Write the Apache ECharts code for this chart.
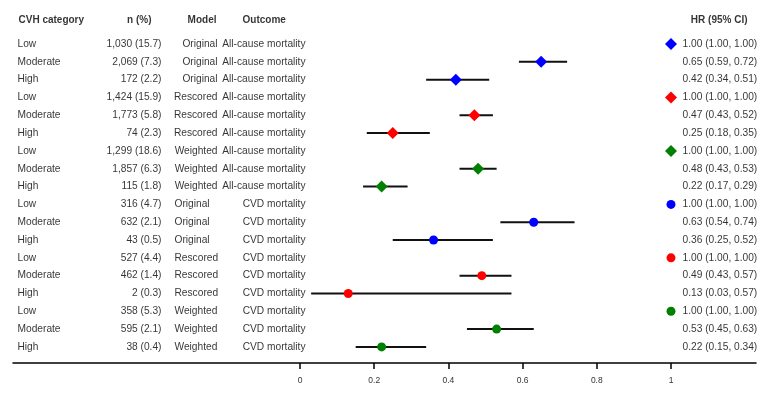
<!DOCTYPE html>
<html>
<head>
<meta charset="utf-8">
<script src="https://cdn.jsdelivr.net/npm/echarts@6/dist/echarts.min.js"></script>
<style>
  html, body { margin: 0; padding: 0; background: #fff; }
  #chart { width: 764px; height: 399px; }
</style>
</head>
<body>
<div id="chart"></div>
<script>
// 表格数据
const categories = ['Low', 'Moderate', 'High', 'Low', 'Moderate', 'High', 'Low', 'Moderate', 'High',
  'Low', 'Moderate', 'High', 'Low', 'Moderate', 'High', 'Low', 'Moderate', 'High'];
const nPct = ['1,030 (15.7)', '2,069 (7.3)', '172 (2.2)', '1,424 (15.9)', '1,773 (5.8)', '74 (2.3)',
  '1,299 (18.6)', '1,857 (6.3)', '115 (1.8)', '316 (4.7)', '632 (2.1)', '43 (0.5)',
  '527 (4.4)', '462 (1.4)', '2 (0.3)', '358 (5.3)', '595 (2.1)', '38 (0.4)'];
const models = ['Original', 'Original', 'Original', 'Rescored', 'Rescored', 'Rescored', 'Weighted', 'Weighted', 'Weighted',
  'Original', 'Original', 'Original', 'Rescored', 'Rescored', 'Rescored', 'Weighted', 'Weighted', 'Weighted'];
const outcomes = ['All-cause mortality', 'All-cause mortality', 'All-cause mortality', 'All-cause mortality',
  'All-cause mortality', 'All-cause mortality', 'All-cause mortality', 'All-cause mortality', 'All-cause mortality',
  'CVD mortality', 'CVD mortality', 'CVD mortality', 'CVD mortality', 'CVD mortality', 'CVD mortality',
  'CVD mortality', 'CVD mortality', 'CVD mortality'];
const hr    = [1.00, 0.65, 0.42, 1.00, 0.47, 0.25, 1.00, 0.48, 0.22, 1.00, 0.63, 0.36, 1.00, 0.49, 0.13, 1.00, 0.53, 0.22];
const lower = [1.00, 0.59, 0.34, 1.00, 0.43, 0.18, 1.00, 0.43, 0.17, 1.00, 0.54, 0.25, 1.00, 0.43, 0.03, 1.00, 0.45, 0.15];
const upper = [1.00, 0.72, 0.51, 1.00, 0.52, 0.35, 1.00, 0.53, 0.29, 1.00, 0.74, 0.52, 1.00, 0.57, 0.57, 1.00, 0.63, 0.34];
const xTicks = [0, 0.2, 0.4, 0.6, 0.8, 1];
const headers = ['CVH category', 'n (%)', 'Model', 'Outcome', 'HR (95% CI)'];

const modelColor = { Original: '#0000ff', Rescored: '#ff0000', Weighted: '#008000' };
const font = 'Liberation Sans, Arial, sans-serif';
const headerY = -1.35;

function hrText(i) {
  return hr[i].toFixed(2) + ' (' + lower[i].toFixed(2) + ', ' + upper[i].toFixed(2) + ')';
}

// 文本列（x 用像素轴）
function textSeries(name, getX, getText, side, rows) {
  return {
    name: name,
    type: 'scatter',
    xAxisIndex: 1,
    symbolSize: 1,
    itemStyle: { color: 'rgba(0,0,0,0)' },
    silent: true,
    clip: false,
    z: 5,
    data: rows.map(i => ({ value: [getX(i), i], txt: getText(i) })),
    label: {
      show: true,
      position: side,
      distance: 0,
      fontFamily: font,
      fontSize: 10.2,
      color: '#000',
      formatter: p => p.data.txt
    }
  };
}

function headerSeries(x, text, side) {
  return {
    type: 'scatter',
    xAxisIndex: 1,
    symbolSize: 1,
    itemStyle: { color: 'rgba(0,0,0,0)' },
    silent: true,
    clip: false,
    data: [{ value: [x, headerY] }],
    label: {
      show: true,
      position: side,
      distance: 0,
      fontFamily: font,
      fontSize: 10,
      fontWeight: 'bold',
      color: '#000',
      formatter: text
    }
  };
}

const rows = categories.map((_, i) => i);
const allRows = rows.filter(i => outcomes[i] !== 'CVD mortality');
const cvdRows = rows.filter(i => outcomes[i] === 'CVD mortality');

const series = [
  textSeries('cat', () => 17, i => categories[i], 'right', rows),
  textSeries('n', () => 162, i => nPct[i], 'left', rows),
  textSeries('modelA', () => 218, i => models[i], 'left', allRows),
  textSeries('modelC', () => 174, i => models[i], 'right', cvdRows),
  textSeries('outcome', () => 306, i => outcomes[i], 'left', rows),
  textSeries('hr', () => 682, i => hrText(i), 'right', rows),
  headerSeries(18, headers[0], 'right'),
  headerSeries(152, headers[1], 'left'),
  headerSeries(217, headers[2], 'left'),
  headerSeries(242, headers[3], 'right'),
  headerSeries(748, headers[4], 'left'),
  {
    // 置信区间
    type: 'custom',
    silent: true,
    z: 3,
    data: rows.map(i => [lower[i], upper[i], i]),
    renderItem: (params, api) => {
      const a = api.coord([api.value(0), api.value(2)]);
      const b = api.coord([api.value(1), api.value(2)]);
      return {
        type: 'line',
        shape: { x1: a[0], y1: a[1], x2: b[0], y2: b[1] },
        style: { stroke: '#111', lineWidth: 2 }
      };
    }
  }
];

['Original', 'Rescored', 'Weighted'].forEach(m => {
  series.push({
    type: 'scatter',
    silent: true,
    z: 4,
    symbol: 'diamond',
    symbolSize: 12,
    itemStyle: { color: modelColor[m], opacity: 1 },
    data: allRows.filter(i => models[i] === m).map(i => [hr[i], i])
  });
  series.push({
    type: 'scatter',
    silent: true,
    z: 4,
    symbol: 'circle',
    symbolSize: 9,
    itemStyle: { color: modelColor[m], opacity: 1 },
    data: cvdRows.filter(i => models[i] === m).map(i => [hr[i], i])
  });
});

const chart = echarts.init(document.getElementById('chart'));
chart.setOption({
  animation: false,
  backgroundColor: '#fff',
  grid: { left: 13, right: 8, top: 8, bottom: 36 },
  xAxis: [
    {
      type: 'value',
      min: (13 - 300) / 371,
      max: (756 - 300) / 371,
      splitLine: { show: false },
      axisLine: { show: true, onZero: false, lineStyle: { color: '#000', width: 1.5 } },
      axisTick: { show: true, customValues: xTicks, length: 6, lineStyle: { color: '#000', width: 1.5 } },
      axisLabel: {
        customValues: xTicks,
        margin: 13,
        fontFamily: font,
        fontSize: 8.5,
        color: '#333',
        formatter: v => String(v)
      }
    },
    { type: 'value', min: 13, max: 756, show: false }
  ],
  yAxis: {
    type: 'value',
    inverse: true,
    min: (8 - 44) / 17.82,
    max: (363 - 44) / 17.82,
    show: false
  },
  series: series
});
</script>
</body>
</html>
